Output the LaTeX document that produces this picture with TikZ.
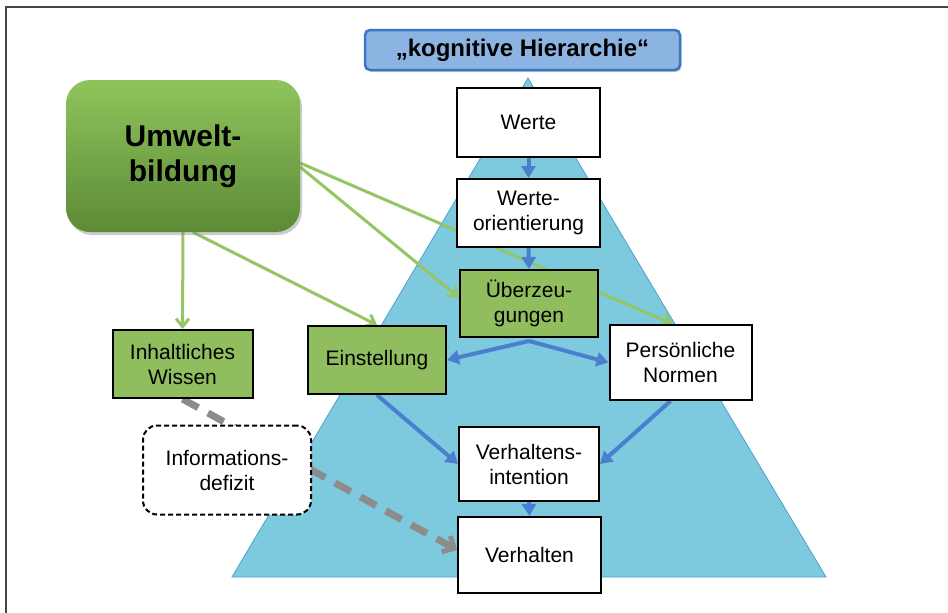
\documentclass[tikz,border=0pt]{standalone}
\usepackage{fontspec}
\setmainfont{Liberation Sans}
\usetikzlibrary{arrows.meta,shadows,calc}
\pgfdeclarelayer{bg}
\pgfdeclarelayer{lines}
\pgfsetlayers{bg,lines,main}
\definecolor{boxgreen}{HTML}{90BE5F}
\definecolor{ugtop}{HTML}{8FC45C}
\definecolor{ugbot}{HTML}{5C8A36}
\definecolor{tri}{HTML}{7DC9DE}
\definecolor{triedge}{HTML}{4F9FD0}
\definecolor{bluearrow}{HTML}{4A7FD0}
\definecolor{greenarrow}{HTML}{95C564}
\definecolor{titlefill}{HTML}{8CB4E3}
\definecolor{titleedge}{HTML}{3A76C4}
\definecolor{greyarrow}{HTML}{8C8C8C}
\definecolor{framecol}{HTML}{444444}
\tikzset{
  lbl/.style={font=\fontsize{21}{25}\selectfont, align=center, inner sep=0pt},
  whitebox/.style={lbl, draw=black, line width=2pt, fill=white},
  greenbox/.style={lbl, draw=black, line width=2pt, fill=boxgreen},
  bluearr/.style={draw=bluearrow, line width=4pt, -{Triangle[length=12pt,width=14pt]}},
  greenarr/.style={draw=greenarrow, line width=3pt, -{Straight Barb[length=8pt,width=13pt,line width=3pt]}},
  greyarr/.style={draw=greyarrow, line width=7pt, dash pattern=on 18pt off 11pt, -{Straight Barb[length=9pt,width=18pt,line width=5pt]}}
}
\begin{document}
\begin{tikzpicture}[x=1pt,y=-1pt]
\useasboundingbox (0,0) rectangle (948,613);

% title
\node[draw=titleedge, line width=2.5pt, fill=titlefill, rounded corners=5pt,
      minimum width=315pt, minimum height=40pt, inner sep=0pt,
      font=\bfseries\fontsize{24}{27}\selectfont,
      drop shadow={opacity=0.35, shadow xshift=1.5pt, shadow yshift=-2pt}]
      (title) at (522.5,50) {„kognitive Hierarchie“};

% main boxes
\node[whitebox, minimum width=143pt, minimum height=69pt] (werte) at (528.5,122.5) {Werte};
\node[whitebox, minimum width=143pt, minimum height=68pt] (wo) at (528.5,213) {Werte-\\orientierung};
\node[greenbox, minimum width=138pt, minimum height=67pt] (ueb) at (529,303.5) {Überzeu-\\gungen};
\node[greenbox, minimum width=138pt, minimum height=68pt] (einst) at (377,360) {Einstellung};
\node[greenbox, minimum width=140pt, minimum height=68pt] (wissen) at (182.5,364) {Inhaltliches\\Wissen};
\node[whitebox, minimum width=142pt, minimum height=75pt] (normen) at (680.5,362.5) {Persönliche\\Normen};
\node[whitebox, minimum width=140pt, minimum height=74pt] (vint) at (529,464) {Verhaltens-\\intention};
\node[whitebox, minimum width=143pt, minimum height=76pt] (verh) at (529.5,555) {Verhalten};
\node[lbl, draw=black, line width=2pt, dashed, dash pattern=on 5pt off 3pt, fill=white,
      rounded corners=14pt, minimum width=168pt, minimum height=89pt] (info) at (227,470) {Informations-\\defizit};
\node[shade, top color=ugtop, bottom color=ugbot, rounded corners=24pt,
      minimum width=234pt, minimum height=152pt, inner sep=0pt, align=center,
      font=\bfseries\fontsize{30}{35}\selectfont,
      drop shadow={opacity=0.4, shadow xshift=2pt, shadow yshift=-3pt}]
      (umwelt) at (183,156) {Umwelt-\\bildung};

% background and triangle
\begin{pgfonlayer}{bg}
\fill[white] (0,0) rectangle (948,613);
\draw[framecol, line width=2pt] (6,613) -- (6,7) -- (948,7);
\coordinate (apex) at (528,78);
\coordinate (bl) at (232,577);
\coordinate (br) at (826,577);
\filldraw[fill=tri, draw=triedge, line width=0.8pt] (apex) -- (br) -- (bl) -- cycle;
\end{pgfonlayer}

% connectors
\begin{pgfonlayer}{lines}
\draw[greenarr] (umwelt.south) -- (wissen.north);
\draw[greenarr] ([xshift=10pt]umwelt.south) -- (einst.north);
\draw[greenarr] ([yshift=-11pt]umwelt.east) -- ([yshift=6pt]ueb.west);
\draw[greenarr] ([yshift=-7pt]umwelt.east) -- ([xshift=-8pt]normen.north);

\draw[bluearr] (werte.south) -- (wo.north);
\draw[bluearr] (wo.south) -- (ueb.north);
\draw[bluearr] ([yshift=-3pt]ueb.south) -- (einst.east);
\draw[bluearr] ([yshift=-3pt]ueb.south) -- (normen.west);
\draw[bluearr] (einst.south) -- (vint.west);
\draw[bluearr] ([xshift=-10pt]normen.south) -- (vint.east);
\draw[bluearr] (vint.south) -- (verh.north);

\draw[greyarr] (wissen.south) -- ([yshift=5pt]verh.west);
\end{pgfonlayer}
\end{tikzpicture}
\end{document}
